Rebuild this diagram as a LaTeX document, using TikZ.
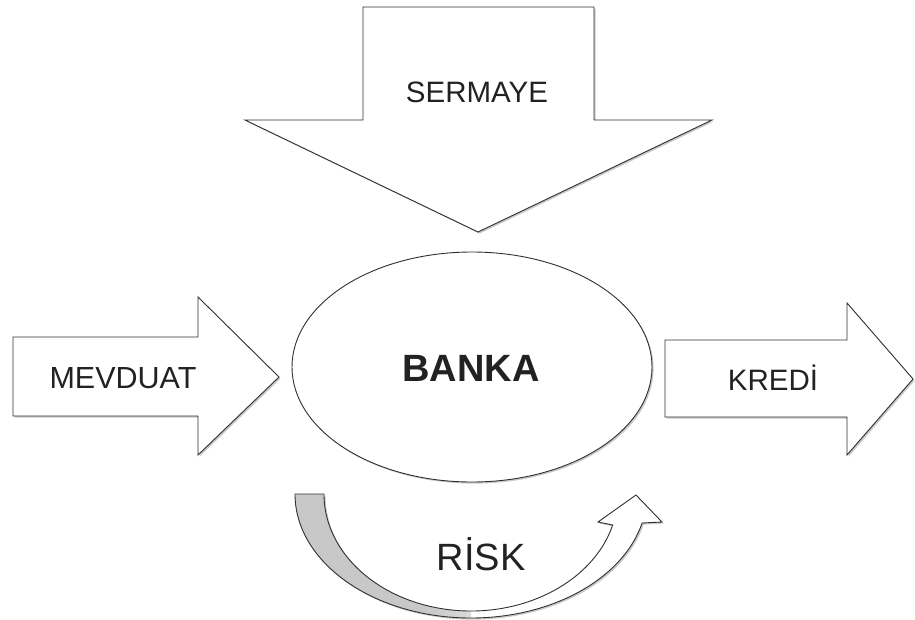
\documentclass[tikz,border=0pt]{standalone}
\usepackage{fontspec}
\setmainfont{Liberation Sans}
\usetikzlibrary{shapes.geometric,shadows}
\definecolor{edge}{HTML}{303030}
\definecolor{ink}{HTML}{222222}
\definecolor{backface}{HTML}{C8C8C8}
% grey back face of the curved arrow, fading out towards the bottom of the bend
\pgfdeclarehorizontalshading{backfade}{100bp}{color(0bp)=(backface); color(62bp)=(backface); color(100bp)=(white)}
\begin{document}
\begin{tikzpicture}[x=1pt,y=-1pt,
  outline/.style={draw=edge, line width=0.9pt, line join=miter},
  softshadow/.style={drop shadow={shadow xshift=1.6pt, shadow yshift=-1.6pt, opacity=0.3, fill=black!70}},
  blockarrow/.style={outline, fill=white, softshadow},
  caption/.style={text=ink, anchor=base, inner sep=0pt, font=\fontsize{29.5}{34}\selectfont},
  bigcaption/.style={text=ink, anchor=base, inner sep=0pt, font=\fontsize{38}{44}\selectfont},
]
\useasboundingbox (0,0) rectangle (915,619);

% capital flowing down into the bank
\path[blockarrow] (363,7) -- (594,7) -- (594,120) -- (712,120) -- (478,232)
  -- (245,120) -- (363,120) -- cycle;
\node[caption] (sermaye) at (477,102) {SERMAYE};

% deposits coming in from the left
\path[blockarrow] (13,337) -- (198,337) -- (198,297) -- (279,377) -- (198,455)
  -- (198,416) -- (13,416) -- cycle;
\node[caption, font=\fontsize{30.5}{35}\selectfont] (mevduat) at (123,388) {MEVDUAT};

% loans going out to the right
\path[blockarrow] (665,340) -- (847,340) -- (847,303) -- (913,379) -- (847,455)
  -- (847,417) -- (665,417) -- cycle;
\node[caption] (kredi) at (773,390) {KREDİ};

% the bank itself
\node[ellipse, outline, fill=white, softshadow, minimum width=360pt,
      minimum height=230pt, inner sep=0pt] (banka) at (472,367) {};
\node[bigcaption, font=\fontsize{38}{44}\selectfont\bfseries] (bankatext) at (471,381) {BANKA};

% curved risk arrow: grey back face on the left, white front band on the right
\path[softshadow, fill=white] (295,494)
  arc[start angle=180, end angle=13.53, x radius=176, y radius=124]
  -- (662,522) -- (636,495) -- (598,522) -- (612.7,525)
  arc[start angle=15.37, end angle=180, x radius=147, y radius=117] -- cycle;
\shade[shading=backfade] (295,494)
  arc[start angle=180, end angle=90, x radius=176, y radius=124]
  -- (471,611)
  arc[start angle=90, end angle=180, x radius=147, y radius=117] -- cycle;
\draw[outline] (295,494)
  arc[start angle=180, end angle=13.53, x radius=176, y radius=124]
  -- (662,522) -- (636,495) -- (598,522) -- (612.7,525)
  arc[start angle=15.37, end angle=180, x radius=147, y radius=117] -- cycle;
\node[bigcaption] (risk) at (481,570) {RİSK};
\end{tikzpicture}
\end{document}
